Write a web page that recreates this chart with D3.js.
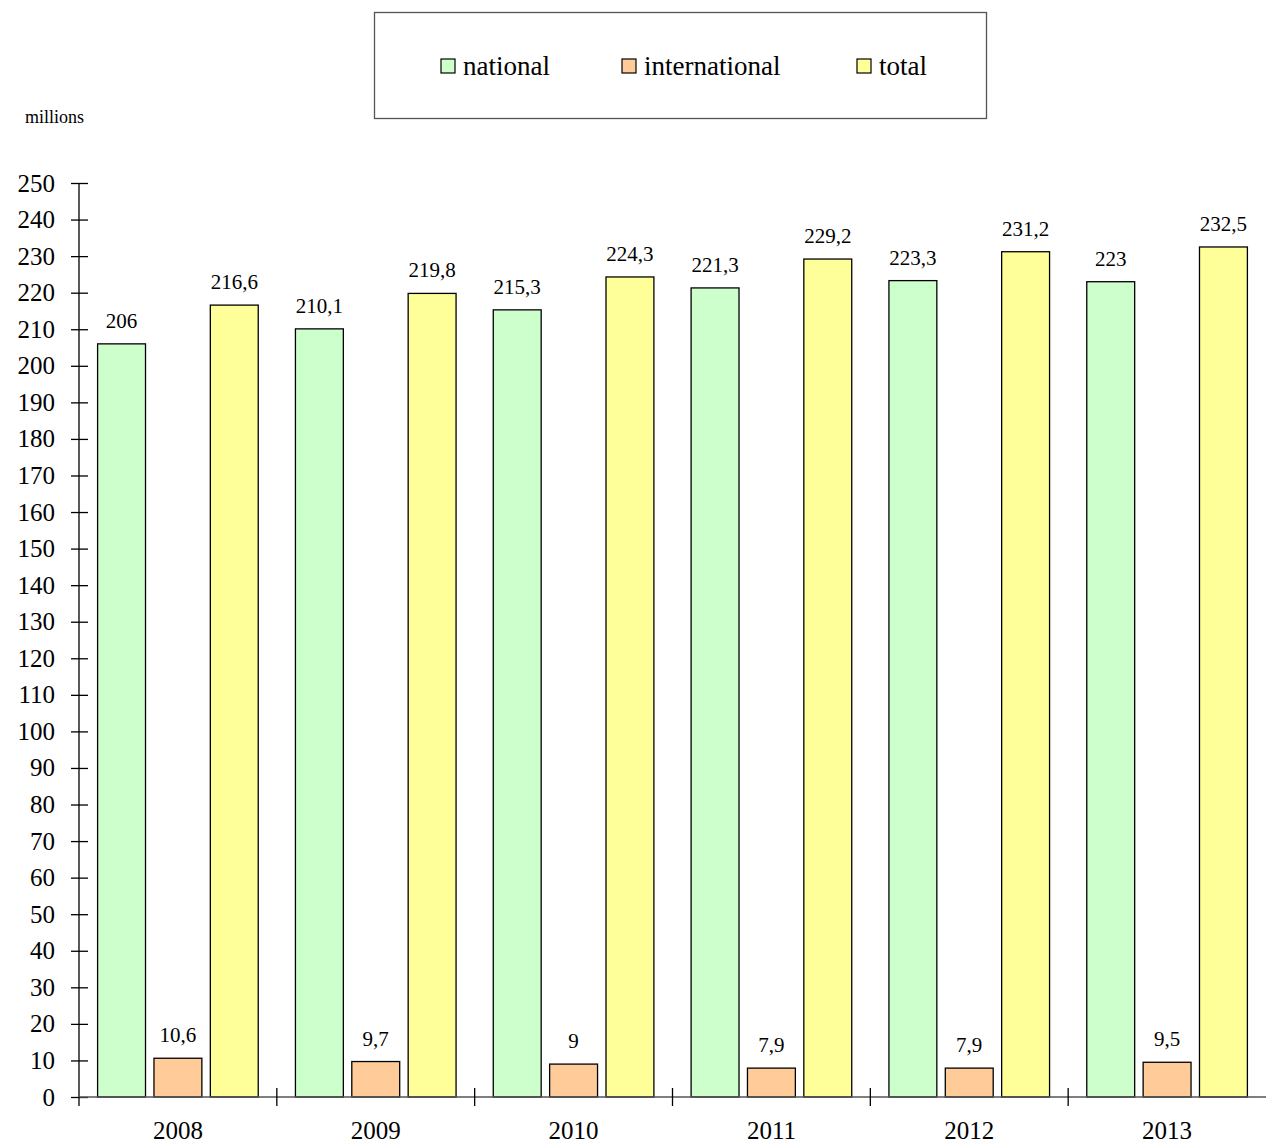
<!DOCTYPE html>
<html>
<head>
<meta charset="utf-8">
<script src="https://cdn.jsdelivr.net/npm/d3@7"></script>
<style>
  body { margin: 0; background: #fff; }
  svg { display: block; font-family: 'Liberation Serif', 'DejaVu Serif', serif; }
</style>
</head>
<body>
<svg id="chart"></svg>
<script>
const years = ['2008', '2009', '2010', '2011', '2012', '2013']
const national = [206, 210.1, 215.3, 221.3, 223.3, 223]
const international = [10.6, 9.7, 9, 7.9, 7.9, 9.5]
const total = [216.6, 219.8, 224.3, 229.2, 231.2, 232.5]
const seriesNames = ['national', 'international', 'total']
const seriesColors = ['#ccffcc', '#ffcc99', '#ffff99']
const yTicks = d3.range(0, 251, 10)

const width = 1266
const height = 1145
const margin = { top: 183, right: 0, bottom: 48, left: 79 }

const svg = d3.select('#chart')
    .attr('width', width)
    .attr('height', height)

const series = [national, international, total]
const rows = years.map((y, i) => ({ year: y, values: series.map(s => s[i]) }))

const x = d3.scaleBand()
    .domain(years)
    .range([margin.left, width - margin.right])

const inner = d3.scaleBand()
    .domain(seriesNames)
    .range([0, x.bandwidth()])
    .paddingInner(0.15)
    .paddingOuter(0.33)

const y = d3.scaleLinear()
    .domain([0, 250])
    .range([height - margin.bottom, margin.top])

const fmt = v => String(v).replace('.', ',')

// bars
const groups = svg.append('g')
    .selectAll('g')
    .data(rows)
    .join('g')
    .attr('transform', d => `translate(${x(d.year)},0)`)

groups.selectAll('rect')
    .data(d => d.values.map((v, k) => ({ v, k })))
    .join('rect')
    .attr('x', d => inner(seriesNames[d.k]))
    .attr('width', inner.bandwidth())
    .attr('y', d => y(d.v))
    .attr('height', d => y(0) - y(d.v))
    .attr('fill', d => seriesColors[d.k])
    .attr('stroke', '#000')
    .attr('stroke-width', 1.3)

groups.selectAll('text')
    .data(d => d.values.map((v, k) => ({ v, k })))
    .join('text')
    .attr('x', d => inner(seriesNames[d.k]) + inner.bandwidth() / 2)
    .attr('y', d => y(d.v) - 16)
    .attr('text-anchor', 'middle')
    .attr('font-size', 21)
    .attr('fill', '#000')
    .text(d => fmt(d.v))

// y axis
const yAxis = svg.append('g')
    .attr('transform', `translate(${margin.left},0)`)
    .call(d3.axisLeft(y).tickValues(yTicks).tickSize(8).tickPadding(16))
yAxis.select('.domain').attr('d', `M0,${y(250)}V${y(0)}`).attr('stroke', '#000').attr('stroke-width', 1.3)
yAxis.selectAll('.tick line').attr('x2', 9).attr('x1', -8).attr('stroke-width', 1.3)
yAxis.selectAll('.tick text')
    .attr('font-size', 25)
    .attr('font-family', "'Liberation Serif', serif")
    .attr('fill', '#000')

// x axis
const xAxis = svg.append('g')
    .attr('transform', `translate(0,${y(0)})`)
    .call(d3.axisBottom(x).tickSize(0).tickPadding(24))
xAxis.select('.domain').attr('d', `M${margin.left},0H${width}`).attr('stroke', '#555').attr('stroke-width', 1.3)
xAxis.selectAll('.tick text')
    .attr('font-size', 25)
    .attr('font-family', "'Liberation Serif', serif")
    .attr('fill', '#000')

// boundary ticks between years
svg.append('g')
    .selectAll('line')
    .data(years)
    .join('line')
    .attr('x1', d => x(d))
    .attr('x2', d => x(d))
    .attr('y1', (d, i) => i === 0 ? y(0) : y(0) - 9)
    .attr('y2', y(0) + 9)
    .attr('stroke', '#000')
    .attr('stroke-width', 1.3)

// units label
svg.append('text')
    .attr('x', 25)
    .attr('y', 123)
    .attr('font-size', 18)
    .text('millions')

// legend
const legend = svg.append('g')
legend.append('rect')
    .attr('x', 374.5).attr('y', 12.5)
    .attr('width', 612).attr('height', 106)
    .attr('fill', 'none')
    .attr('stroke', '#555')
    .attr('stroke-width', 1.3)

const legendX = [441, 622, 857]
const items = legend.selectAll('g.item')
    .data(seriesNames)
    .join('g')
    .attr('class', 'item')
    .attr('transform', (d, i) => `translate(${legendX[i]},59)`)
items.append('rect')
    .attr('width', 14).attr('height', 14)
    .attr('fill', (d, i) => seriesColors[i])
    .attr('stroke', '#000')
    .attr('stroke-width', 1.2)
items.append('text')
    .attr('x', 22)
    .attr('y', 16)
    .attr('font-size', 27)
    .text(d => d)
</script>
</body>
</html>
